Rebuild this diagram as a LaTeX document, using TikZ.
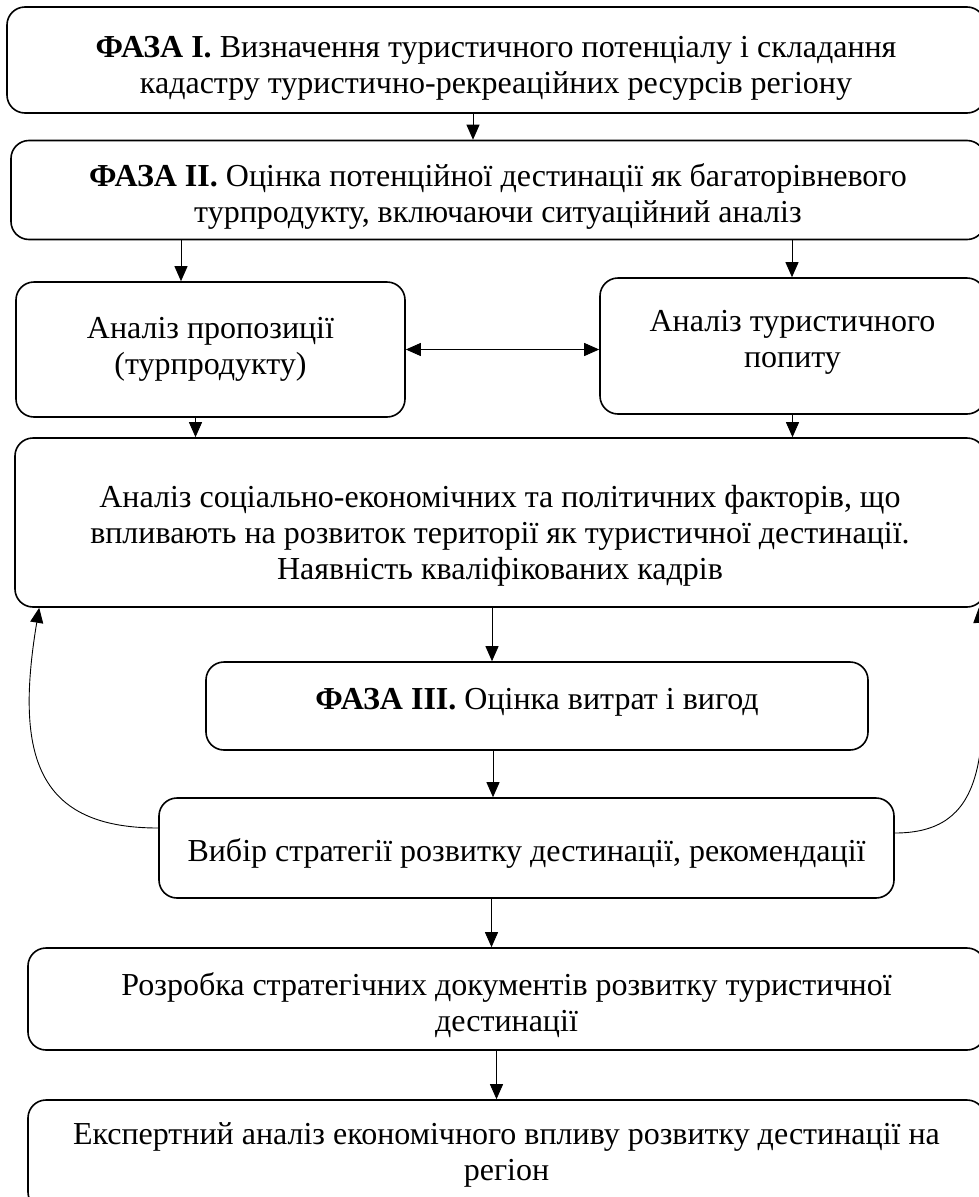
\documentclass[tikz,border=0pt]{standalone}
\usepackage{fontspec}
\setmainfont{Liberation Serif}
\usetikzlibrary{arrows.meta,positioning}

\tikzset{
    box/.style={draw, line width=1.6pt, rounded corners=18pt, align=center,
        inner sep=0pt, font=\fontsize{32}{36}\selectfont},
    textdown/.style={execute at begin node={\rule{0pt}{#1}}},
    textup/.style={execute at end node={\rule[-#1]{0pt}{0pt}}},
    arr/.style={-{Triangle[length=15pt,width=13pt]}, line width=0.9pt},
    darr/.style={{Triangle[length=15pt,width=13pt]}-{Triangle[length=15pt,width=13pt]}, line width=0.9pt}
}

\begin{document}
\begin{tikzpicture}[x=1pt,y=-1pt]
    \useasboundingbox (0,0) rectangle (979,1197);
    \clip (0,0) rectangle (979,1197);
    % phases I and II
    \node[box, textdown=73pt, minimum width=978pt, minimum height=106pt] (ph1) at (496,60)
        {\textbf{ФАЗА I.} Визначення туристичного потенціалу і складання\\кадастру туристично-рекреаційних ресурсів регіону};
    \node[box, textdown=71pt, minimum width=974pt, minimum height=99pt] (ph2) at (498,190)
        {\textbf{ФАЗА II.} Оцінка потенційної дестинації як багаторівневого\\турпродукту, включаючи ситуаційний аналіз};
    % analysis boxes
    \node[box, minimum width=389pt, minimum height=135pt] (prop) at (210.5,349.5)
        {Аналіз пропозиції\\(турпродукту)};
    \node[box, textup=15pt, minimum width=385pt, minimum height=136pt] (dem) at (792.5,346)
        {Аналіз туристичного\\попиту};
    \node[box, textdown=121pt, minimum width=970pt, minimum height=169pt] (soc) at (500,522.5)
        {Аналіз соціально-економічних та політичних факторів, що\\впливають на розвиток території як туристичної дестинації.\\Наявність кваліфікованих кадрів};
    % phase III
    \node[box, textup=15pt, minimum width=662pt, minimum height=88pt] (ph3) at (537,706)
        {\textbf{ФАЗА III.} Оцінка витрат і вигод};
    \node[box, textdown=33pt, minimum width=735pt, minimum height=100pt] (choice) at (526.5,848)
        {Вибір стратегії розвитку дестинації, рекомендації};
    % documents
    \node[box, textdown=71pt, minimum width=957pt, minimum height=102pt] (doc) at (506.5,999)
        {Розробка стратегічних документів розвитку туристичної\\дестинації};
    \node[box, minimum width=957pt, minimum height=110pt] (exp) at (506.5,1155)
        {Експертний аналіз економічного впливу розвитку дестинації на\\регіон};
    % arrows down
    \foreach \a/\b/\dx in {ph1/ph2/-23, ph2/prop/-317, ph2/dem/294, prop/soc/-15,
        dem/soc/0, soc/ph3/-8, ph3/choice/-44, choice/doc/-35, doc/exp/-10}
        {
            \coordinate (s) at ([xshift=\dx pt]\a.south);
            \draw[arr] (s) -- (s |- \b.north);
        }
    \draw[darr] (prop.east) -- (prop.east -| dem.west);
    % feedback
    \draw[arr] ([yshift=20pt]choice.west) .. controls +(-120,0) and +(-25,150) .. ([xshift=25pt]soc.south west);
    \draw[arr] ([yshift=15pt]choice.east) .. controls +(90,0) and +(10,150) .. ([xshift=-7pt]soc.south east);
\end{tikzpicture}
\end{document}
